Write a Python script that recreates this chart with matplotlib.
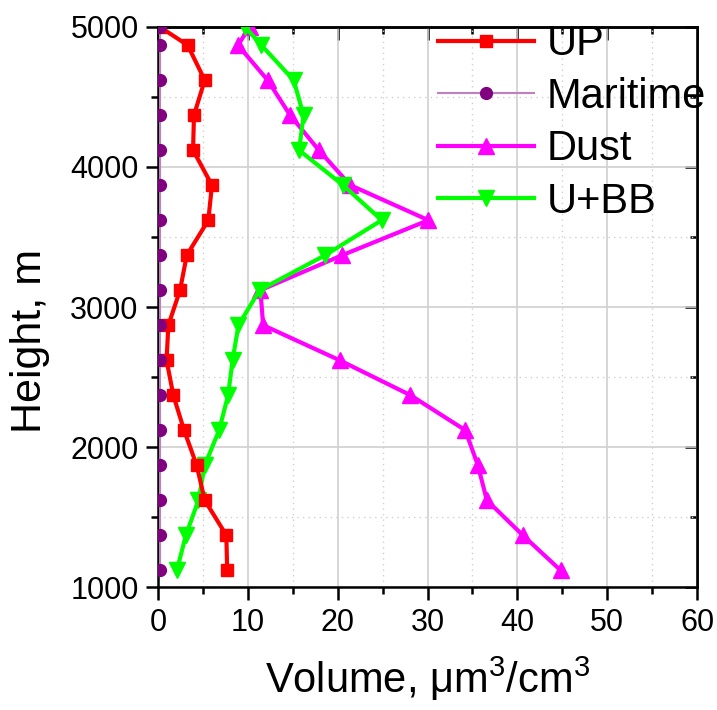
import numpy as np
import matplotlib.pyplot as plt
from matplotlib.ticker import MultipleLocator

plt.rcParams['font.family'] = ['Liberation Sans', 'DejaVu Sans']

# heights, m
height = [5000, 4870, 4620, 4370, 4120, 3870, 3620, 3370, 3120,
          2870, 2620, 2370, 2120, 1870, 1620, 1370, 1120]

# volume concentrations, um^3/cm^3
up = [0.2, 3.3, 5.2, 4.0, 3.9, 6.0, 5.6, 3.2, 2.45,
      1.15, 0.95, 1.7, 2.9, 4.3, 5.2, 7.6, 7.7]
maritime = [0.2, 0.2, 0.2, 0.2, 0.2, 0.2, 0.2, 0.2, 0.2,
            0.2, 0.2, 0.2, 0.2, 0.2, 0.2, 0.2, 0.2]
dust = [10.2, 8.9, 12.2, 14.7, 17.9, 21.4, 30.1, 20.5, 11.4,
        11.7, 20.2, 28.1, 34.2, 35.6, 36.6, 40.6, 44.8]
ubb = [9.7, 11.5, 15.1, 16.2, 15.7, 20.6, 24.9, 18.6, 11.3,
       8.95, 8.3, 7.8, 6.8, 5.2, 4.5, 3.1, 2.1]

fig = plt.figure(figsize=(7.17, 7.10), dpi=100)
ax = fig.add_axes([0.2204, 0.1732, 0.7518, 0.7888])

ax.plot(up, height, color='#ff0000', lw=3, marker='s', ms=8, label='UP', zorder=4)
ax.plot(maritime, height, color='#c080c0', lw=1.5, marker='o', ms=8.5, mfc='#800080', mec='#800080',
        label='Maritime', zorder=5)
ax.plot(dust, height, color='#ff00ff', lw=3, marker='^', ms=11, label='Dust', zorder=3)
ax.plot(ubb, height, color='#00ff00', lw=3, marker='v', ms=11, label='U+BB', zorder=3)

ax.set_xlim(0, 60)
ax.set_ylim(1000, 5000)
ax.xaxis.set_major_locator(MultipleLocator(10))
ax.xaxis.set_minor_locator(MultipleLocator(5))
ax.yaxis.set_major_locator(MultipleLocator(1000))
ax.yaxis.set_minor_locator(MultipleLocator(500))

ax.grid(which='major', color='#d0d0d0', lw=1.2, ls='-')
ax.grid(which='minor', color='#d0d0d0', lw=1.0, ls=(0, (1, 3)))
ax.set_axisbelow(True)

for s in ax.spines.values():
    s.set_linewidth(1.8)

ax.tick_params(which='both', labelsize=22, width=1.8, direction='out', top=False, right=False)
ax.tick_params(which='major', length=9)
ax.tick_params(which='minor', length=5)
ax.tick_params(axis='x', pad=6)
ax.tick_params(axis='y', pad=5)
# inward ticks on top and right
ax2 = ax.secondary_xaxis('top')
ax2.xaxis.set_major_locator(MultipleLocator(10))
ax2.xaxis.set_minor_locator(MultipleLocator(5))
ax2.tick_params(which='both', direction='in', width=1.8, labeltop=False)
ax2.tick_params(which='major', length=9)
ax2.tick_params(which='minor', length=5)
ax3 = ax.secondary_yaxis('right')
ax3.yaxis.set_major_locator(MultipleLocator(1000))
ax3.yaxis.set_minor_locator(MultipleLocator(500))
ax3.tick_params(which='both', direction='in', width=1.8, labelright=False)
ax3.tick_params(which='major', length=9)
ax3.tick_params(which='minor', length=5)
for a in (ax2, ax3):
    for s in a.spines.values():
        s.set_linewidth(1.8)

ax.set_xlabel('Volume, $\\mathregular{\\mu m^3/cm^3}$', fontsize=30, labelpad=12)
ax.set_ylabel('Height, m', fontsize=31)
ax.yaxis.set_label_coords(-0.2, 0.44)

ax.legend(loc='upper left', bbox_to_anchor=(0.52, 1.005), frameon=False, fontsize=30,
          handlelength=2.3, handletextpad=0.3, labelspacing=0.3, borderaxespad=0, borderpad=0)

fig.savefig('out.png', dpi=100)
